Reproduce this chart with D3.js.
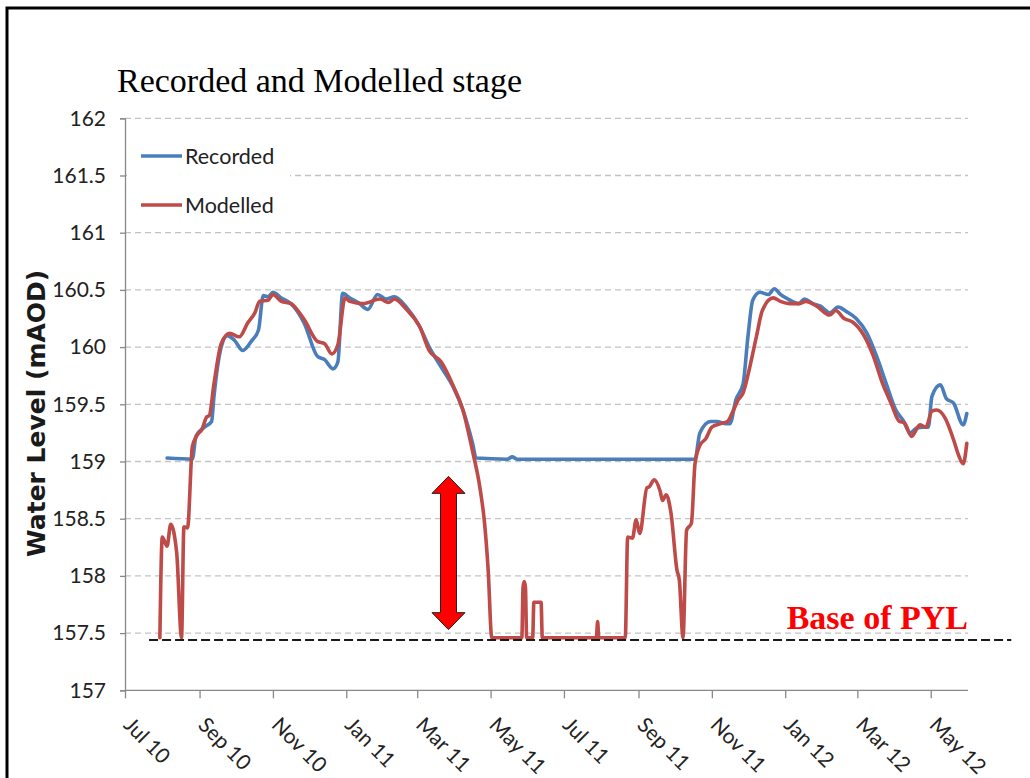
<!DOCTYPE html>
<html>
<head>
<meta charset="utf-8">
<script src="https://cdn.jsdelivr.net/npm/d3@7"></script>
<style>
  body { margin: 0; background: #fff; }
</style>
</head>
<body>
<div id="chart"></div>
<script>
// values (date, water level mAOD)
const recorded = [
  ["2010-08-05",159.03],["2010-08-26",159.02],["2010-08-29",159.22],["2010-09-05",159.30],["2010-09-11",159.35],
  ["2010-09-13",159.57],["2010-09-19",160.00],["2010-09-24",160.10],["2010-09-30",160.06],["2010-10-07",159.97],
  ["2010-10-14",160.05],["2010-10-20",160.15],["2010-10-24",160.45],["2010-10-28",160.44],["2010-11-01",160.48],
  ["2010-11-08",160.43],["2010-11-16",160.38],["2010-11-27",160.21],["2010-12-08",159.92],["2010-12-14",159.89],
  ["2010-12-21",159.81],["2010-12-25",159.87],["2010-12-29",160.47],["2011-01-04",160.43],["2011-01-12",160.38],
  ["2011-01-19",160.33],["2011-01-27",160.46],["2011-02-03",160.42],["2011-02-10",160.44],["2011-02-20",160.35],
  ["2011-03-03",160.18],["2011-03-11",160.00],["2011-03-20",159.84],["2011-03-31",159.65],["2011-04-08",159.45],
  ["2011-04-16",159.16],["2011-04-19",159.03],["2011-05-15",159.02],["2011-05-19",159.04],["2011-05-23",159.02],
  ["2011-07-31",159.02],["2011-10-18",159.02],["2011-10-22",159.25],["2011-10-31",159.35],["2011-11-05",159.35],
  ["2011-11-13",159.33],["2011-11-16",159.33],["2011-11-21",159.54],["2011-11-27",159.68],["2011-12-01",160.09],
  ["2011-12-05",160.41],["2011-12-11",160.48],["2011-12-18",160.46],["2011-12-23",160.51],["2011-12-28",160.46],
  ["2012-01-05",160.41],["2012-01-12",160.38],["2012-01-17",160.42],["2012-01-24",160.38],["2012-01-30",160.36],
  ["2012-02-07",160.30],["2012-02-14",160.35],["2012-02-21",160.31],["2012-02-29",160.25],["2012-03-09",160.12],
  ["2012-03-17",159.92],["2012-03-25",159.68],["2012-04-02",159.45],["2012-04-08",159.36],["2012-04-14",159.25],
  ["2012-04-19",159.29],["2012-04-25",159.30],["2012-04-29",159.30],["2012-05-02",159.57],["2012-05-09",159.67],
  ["2012-05-14",159.55],["2012-05-20",159.51],["2012-05-28",159.32],["2012-05-31",159.42]
];

const modelled = [
  ["2010-07-30",157.46],["2010-08-01",158.34],["2010-08-05",158.26],["2010-08-08",158.45],["2010-08-13",158.20],
  ["2010-08-17",157.46],["2010-08-19",158.43],["2010-08-22",158.42],["2010-08-26",159.13],["2010-08-30",159.23],
  ["2010-09-03",159.28],["2010-09-07",159.39],["2010-09-09",159.40],["2010-09-13",159.68],["2010-09-19",160.03],
  ["2010-09-26",160.12],["2010-10-04",160.09],["2010-10-11",160.21],["2010-10-17",160.30],["2010-10-21",160.40],
  ["2010-10-28",160.41],["2010-11-01",160.46],["2010-11-08",160.40],["2010-11-16",160.38],["2010-11-27",160.24],
  ["2010-12-08",160.05],["2010-12-14",160.03],["2010-12-20",159.94],["2010-12-25",160.02],["2010-12-31",160.43],
  ["2011-01-04",160.40],["2011-01-15",160.38],["2011-01-29",160.42],["2011-02-05",160.39],["2011-02-10",160.42],
  ["2011-02-20",160.33],["2011-03-03",160.18],["2011-03-11",159.97],["2011-03-21",159.87],["2011-03-31",159.66],
  ["2011-04-08",159.45],["2011-04-16",159.09],["2011-04-22",158.78],["2011-04-26",158.46],["2011-04-29",158.05],
  ["2011-05-02",157.46],["2011-05-27",157.46],["2011-05-28",157.90],["2011-05-29",157.95],["2011-05-30",157.90],
  ["2011-05-31",157.46],["2011-06-05",157.46],["2011-06-06",157.77],["2011-06-12",157.77],["2011-06-13",157.46],
  ["2011-07-28",157.46],["2011-07-29",157.60],["2011-07-30",157.46],["2011-08-21",157.46],["2011-08-23",158.34],
  ["2011-08-27",158.33],["2011-08-30",158.49],["2011-09-02",158.37],["2011-09-08",158.77],["2011-09-10",158.78],
  ["2011-09-14",158.84],["2011-09-19",158.74],["2011-09-21",158.66],["2011-09-24",158.71],["2011-09-28",158.55],
  ["2011-10-03",158.05],["2011-10-05",157.96],["2011-10-08",157.46],["2011-10-11",158.40],["2011-10-15",158.46],
  ["2011-10-18",158.98],["2011-10-22",159.14],["2011-10-27",159.20],["2011-11-01",159.30],["2011-11-08",159.33],
  ["2011-11-14",159.35],["2011-11-19",159.45],["2011-11-23",159.54],["2011-11-27",159.60],["2011-12-02",159.80],
  ["2011-12-08",160.09],["2011-12-13",160.32],["2011-12-22",160.43],["2011-12-28",160.40],["2012-01-05",160.38],
  ["2012-01-13",160.38],["2012-01-18",160.40],["2012-01-27",160.36],["2012-02-07",160.28],["2012-02-12",160.32],
  ["2012-02-19",160.25],["2012-02-26",160.22],["2012-03-06",160.11],["2012-03-14",159.93],["2012-03-22",159.68],
  ["2012-03-29",159.51],["2012-04-05",159.35],["2012-04-09",159.34],["2012-04-15",159.22],["2012-04-22",159.32],
  ["2012-04-27",159.30],["2012-05-02",159.44],["2012-05-06",159.45],["2012-05-13",159.38],["2012-05-20",159.19],
  ["2012-05-24",159.06],["2012-05-28",158.98],["2012-05-31",159.16]
];

const yTicks = [157, 157.5, 158, 158.5, 159, 159.5, 160, 160.5, 161, 161.5, 162];
const xDomain = ["2010-07-01", "2012-06-01"];
const series = [
  { name: "Recorded", color: "#4a7ebb", data: recorded },
  { name: "Modelled", color: "#be4b48", data: modelled }
];
// annotations
const pylBase = { value: 157.44, from: "2010-07-21", to: "2012-07-07", label: "Base of PYL" };
const gapArrow = { date: "2011-03-27", top: 158.87, bottom: 157.53 };

const width = 1030;
const height = 778;
const plotL = 125, plotR = 968, plotT = 118.3, plotB = 690.3;
const sans = "Lato, sans-serif";
const serif = "'Liberation Serif', 'Times New Roman', serif";

const parse = d3.utcParse("%Y-%m-%d");

const svg = d3.select("#chart").append("svg")
  .attr("width", width).attr("height", height)
  .style("display", "block");

const x = d3.scaleUtc().domain(xDomain.map(parse)).range([plotL, plotR]);
const y = d3.scaleLinear().domain([157, 162]).range([plotB, plotT]);

// frame
svg.append("path").attr("d", `M7,${height} L7,8 L${width},8`)
  .attr("fill", "none").attr("stroke", "#000").attr("stroke-width", 3);

// title
svg.append("text").attr("x", 117).attr("y", 92)
  .style("font-family", serif).style("font-size", "34px")
  .style("fill", "#000").text("Recorded and Modelled stage");

// grid
svg.append("g").selectAll("line").data(yTicks.filter(d => d > 157)).join("line")
  .attr("x1", plotL).attr("x2", plotR)
  .attr("y1", d => y(d)).attr("y2", d => y(d))
  .attr("stroke", "#c4c4c4").attr("stroke-width", 1.3).attr("stroke-dasharray", "6,4");

// y axis
const yAxis = svg.append("g").attr("transform", `translate(${plotL},0)`)
  .call(d3.axisLeft(y).tickValues(yTicks).tickSize(5).tickPadding(14).tickFormat(d3.format("")));
yAxis.select(".domain").attr("stroke", "#888").attr("stroke-width", 1.3);
yAxis.selectAll(".tick line").attr("stroke", "#888").attr("stroke-width", 1.3);
yAxis.selectAll("text").style("font-family", sans).style("font-size", "21px").style("fill", "#222");

// x axis
const xAxis = svg.append("g").attr("transform", `translate(0,${plotB})`)
  .call(d3.axisBottom(x).ticks(d3.utcMonth.every(2)).tickSize(8).tickFormat(d3.utcFormat("%b %y")));
xAxis.select(".domain").attr("stroke", "#888").attr("stroke-width", 1.3).attr("d", `M${plotL},0H${plotR}`);
xAxis.selectAll(".tick line").attr("stroke", "#888").attr("stroke-width", 1.3);
xAxis.selectAll("text")
  .style("font-family", sans).style("font-size", "21px").style("fill", "#222")
  .attr("text-anchor", "start").attr("dy", null)
  .attr("transform", "translate(-3,36) rotate(45)").attr("y", 0).attr("x", 0);

// axis title
svg.append("text")
  .attr("transform", `translate(45,${(plotT + plotB) / 2 + 9}) rotate(-90)`)
  .attr("text-anchor", "middle")
  .style("font-family", "'DejaVu Sans', sans-serif").style("font-weight", "bold").style("font-size", "25px")
  .style("fill", "#1a1a1a").text("Water Level (mAOD)");

// legend box
svg.append("rect").attr("x", 127).attr("y", 138).attr("width", 163).attr("height", 84).attr("fill", "#fff");

// lines
const line = d3.line().x(d => x(parse(d[0]))).y(d => y(d[1])).curve(d3.curveMonotoneX);
svg.append("g").selectAll("path").data(series).join("path")
  .attr("d", d => line(d.data))
  .attr("fill", "none").attr("stroke", d => d.color).attr("stroke-width", 3.6)
  .attr("stroke-linejoin", "round").attr("stroke-linecap", "round");

// legend
const lg = svg.append("g").selectAll("g").data(series).join("g")
  .attr("transform", (d, i) => `translate(141,${156 + i * 49})`);
lg.append("line").attr("x1", 0).attr("x2", 41)
  .attr("stroke", d => d.color).attr("stroke-width", 3.6);
lg.append("text").attr("x", 44).attr("dy", "0.35em")
  .style("font-family", sans).style("font-size", "21.5px").style("fill", "#222")
  .text(d => d.name);

// base of PYL
svg.append("line")
  .attr("x1", x(parse(pylBase.from))).attr("x2", x(parse(pylBase.to)))
  .attr("y1", y(pylBase.value)).attr("y2", y(pylBase.value))
  .attr("stroke", "#1a1a1a").attr("stroke-width", 2).attr("stroke-dasharray", "9,4");
svg.append("text").attr("x", plotR).attr("y", y(pylBase.value) - 11)
  .attr("text-anchor", "end")
  .style("font-family", serif).style("font-weight", "bold")
  .style("font-size", "34px").style("fill", "#ff0000").text(pylBase.label);

// double-headed arrow
const ax = x(parse(gapArrow.date)), at = y(gapArrow.top), ab = y(gapArrow.bottom);
const hw = 16.5, hh = 17, sw = 8;
const arrowPts = [
  [ax, at], [ax + hw, at + hh], [ax + sw, at + hh], [ax + sw, ab - hh], [ax + hw, ab - hh],
  [ax, ab], [ax - hw, ab - hh], [ax - sw, ab - hh], [ax - sw, at + hh], [ax - hw, at + hh]
];
svg.append("path").attr("d", "M" + arrowPts.map(p => p.join(",")).join("L") + "Z")
  .attr("fill", "#ff0000").attr("stroke", "#222").attr("stroke-width", 1);
</script>
</body>
</html>
